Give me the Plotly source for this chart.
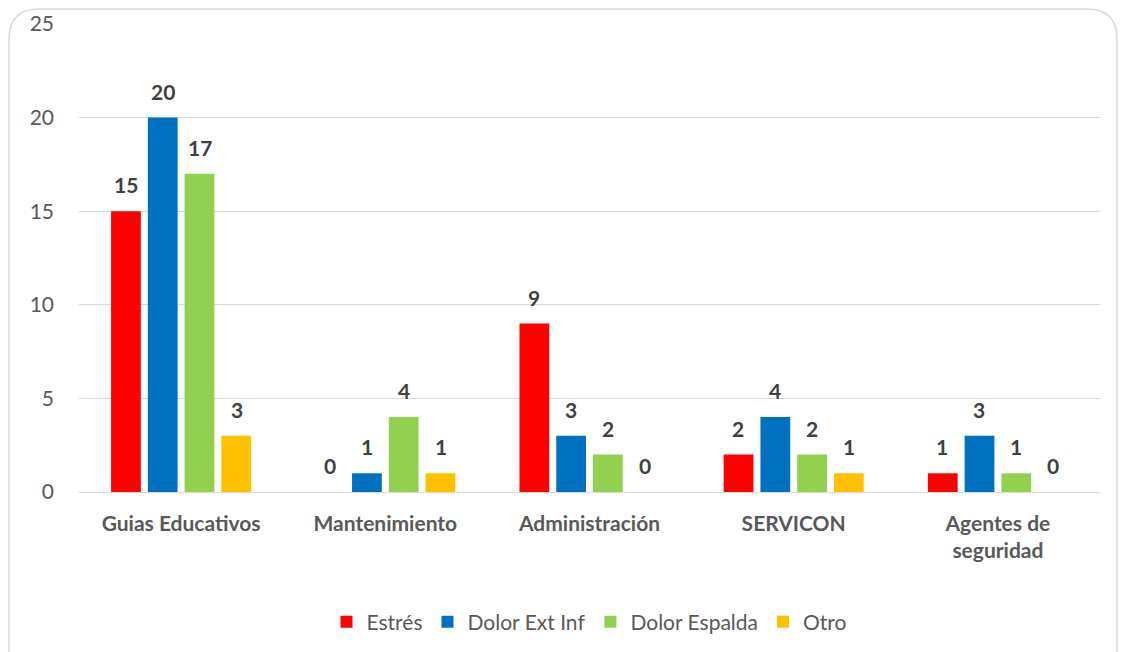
import plotly.graph_objects as go

categories = ["Guias Educativos", "Mantenimiento", "Administración", "SERVICON", "Agentes de<br>seguridad"]
series_names = ["Estrés", "Dolor Ext Inf", "Dolor Espalda", "Otro"]
estres = [15, 0, 9, 2, 1]
dolor_ext_inf = [20, 1, 3, 4, 3]
dolor_espalda = [17, 4, 2, 2, 1]
otro = [3, 1, 0, 1, 0]
colors = ["#FF0000", "#0070C0", "#92D050", "#FFC000"]

series = [estres, dolor_ext_inf, dolor_espalda, otro]

FONT = "Lato, 'Open Sans', sans-serif"
FS = 21
fig = go.Figure()
for name, vals, col in zip(series_names, series, colors):
    fig.add_trace(go.Bar(x=categories, y=vals, name=name, marker_color=col,
                         marker_line_width=0))

# data labels
slot = 37
for i, vals in enumerate(series):
    for c, v in zip(categories, vals):
        fig.add_annotation(x=c, y=v, text=f"<b>{v}</b>", showarrow=False,
                           xshift=(i - 1.5) * slot, yshift=12, yanchor="bottom",
                           font=dict(family=FONT, size=FS, color="#404040"))

# chart border (rounded rectangle)
L, R, T, B = 79, 1100, 24, 492
W, H = R - L, B - T
def px(x): return (x - L) / W
def py(y): return (B - y) / H
x0, x1, y0, y1 = 9, 1117, 9, 680
r = 30
path = (f"M {px(x0+r)},{py(y0)} L {px(x1-r)},{py(y0)} "
        f"Q {px(x1)},{py(y0)} {px(x1)},{py(y0+r)} "
        f"L {px(x1)},{py(y1)} L {px(x0)},{py(y1)} L {px(x0)},{py(y0+r)} "
        f"Q {px(x0)},{py(y0)} {px(x0+r)},{py(y0)} Z")
fig.add_shape(type="path", path=path, xref="paper", yref="paper",
              line=dict(color="#D9D9D9", width=1.5), layer="below")

fig.update_layout(
    width=1121, height=652,
    margin=dict(l=L, r=1121 - R, t=T, b=652 - B, autoexpand=False),
    paper_bgcolor="white", plot_bgcolor="white",
    barmode="group", bargap=0.28, bargroupgap=0.19,
    font=dict(family=FONT, color="#595959", size=FS),
    legend=dict(orientation="h", x=0.5, xanchor="center", y=py(622), yanchor="middle",
                font=dict(family=FONT, size=FS, color="#595959"),
                itemwidth=30, traceorder="normal"),
    showlegend=True,
)
fig.update_yaxes(range=[0, 25], dtick=5, showgrid=True, gridcolor="#D9D9D9", gridwidth=1,
                 zeroline=True, zerolinecolor="#D9D9D9", zerolinewidth=1,
                 tickfont=dict(family=FONT, size=FS, color="#595959"), ticks="",
                 ticklabelstandoff=24, showline=False)
fig.update_xaxes(tickfont=dict(family=FONT, size=FS, color="#595959"),
                 showline=False, ticks="", ticklabelstandoff=17,
                 tickprefix="<b>", ticksuffix="</b>")

fig.write_html("out.html", config={"displayModeBar": False},
               post_script="document.body.style.margin='0';")
